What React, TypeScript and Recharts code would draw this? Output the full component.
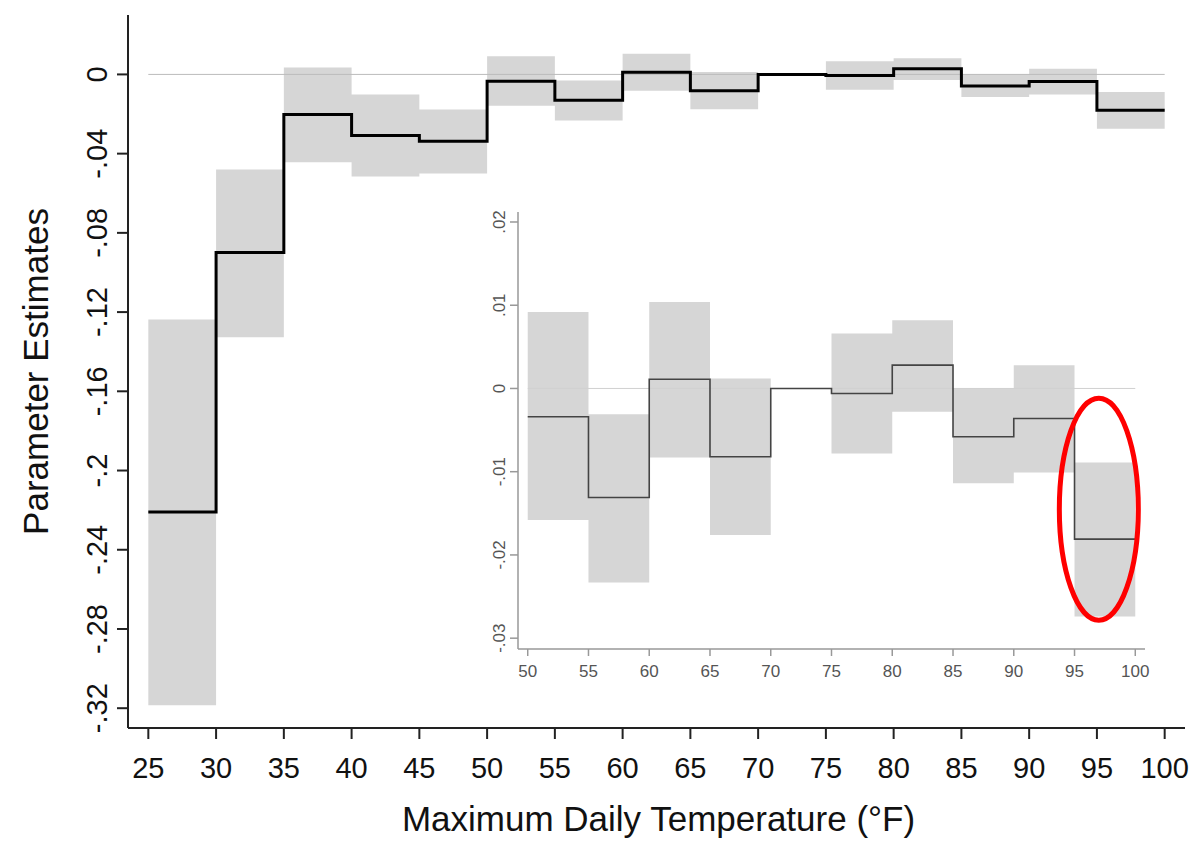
import React from 'react'
import {
  ComposedChart, Area, Line, XAxis, YAxis, ReferenceLine, ReferenceDot,
} from 'recharts'

// ─── Data ────────────────────────────────────────────────────────────────────

// Lower edge of each 5°F bin
const binStart = [25, 30, 35, 40, 45, 50, 55, 60, 65, 70, 75, 80, 85, 90, 95]
const binEnd = 100

// Point estimates (70-75 is the omitted reference bin)
const estimate = [
  -0.221, -0.0899, -0.0202, -0.0308, -0.0338, -0.0034, -0.0131, 0.0011,
  -0.0082, 0, -0.0006, 0.0028, -0.0058, -0.0036, -0.0181,
]
const ciLow = [
  -0.3185, -0.1327, -0.0444, -0.0515, -0.05, -0.0158, -0.0233, -0.0083,
  -0.0176, 0, -0.0078, -0.0028, -0.0114, -0.0101, -0.0274,
]
const ciHigh = [
  -0.1237, -0.048, 0.0035, -0.0101, -0.0177, 0.0092, -0.0031, 0.0104,
  0.0012, 0, 0.0066, 0.0082, 0.0, 0.0028, -0.0089,
]

const mainXTicks = [25, 30, 35, 40, 45, 50, 55, 60, 65, 70, 75, 80, 85, 90, 95, 100]
const mainYTicks = [0, -0.04, -0.08, -0.12, -0.16, -0.2, -0.24, -0.28, -0.32]
const mainYLabels = ['0', '-.04', '-.08', '-.12', '-.16', '-.2', '-.24', '-.28', '-.32']

const insetXTicks = [50, 55, 60, 65, 70, 75, 80, 85, 90, 95, 100]
const insetYTicks = [0.02, 0.01, 0, -0.01, -0.02, -0.03]
const insetYLabels = ['.02', '.01', '0', '-.01', '-.02', '-.03']

// highlighted bin in the inset (centre of the red ring)
const highlight = { x: 97, y: -0.0145 }

// step series: one point per bin start + closing point at the last bin end
function buildSteps(fromTemp: number) {
  const rows = binStart
    .map((t, i) => ({ t, est: estimate[i], band: [ciLow[i], ciHigh[i]] }))
    .filter(r => r.t >= fromTemp)
  const last = rows[rows.length - 1]
  rows.push({ t: binEnd, est: last.est, band: last.band })
  return rows
}

const mainData = buildSteps(25)
const insetData = buildSteps(50)

const FONT = '"Liberation Sans", Arial, sans-serif'

// ─── Ticks ───────────────────────────────────────────────────────────────────

function RotYTick(props: any) {
  const { x, y, payload, labels, ticks, size, fill } = props
  const idx = ticks.indexOf(payload.value)
  return (
    <text
      x={x} y={y}
      transform={`rotate(-90 ${x} ${y})`}
      textAnchor="middle"
      fontSize={size}
      fill={fill}
      fontFamily={FONT}
    >
      {idx >= 0 ? labels[idx] : payload.value}
    </text>
  )
}

// ─── Inset ───────────────────────────────────────────────────────────────────

function Inset() {
  return (
    <div style={{ position: 'absolute', left: 460, top: 190, width: 700, height: 500, background: '#fff' }}>
      <ComposedChart
        width={700} height={500} data={insetData}
        margin={{ top: 22, right: 15, left: 0, bottom: 0 }}
      >
        <XAxis
          dataKey="t" type="number" domain={[49.2, 100.8]} ticks={insetXTicks}
          allowDataOverflow height={41}
          tick={{ fontSize: 17, fill: '#555', fontFamily: FONT }}
          tickSize={7} tickMargin={9}
          axisLine={{ stroke: '#999', strokeWidth: 1.5 }}
          tickLine={{ stroke: '#999', strokeWidth: 1.5 }}
        />
        <YAxis
          type="number" domain={[-0.0313, 0.0212]} ticks={insetYTicks}
          allowDataOverflow width={58}
          tick={<RotYTick labels={insetYLabels} ticks={insetYTicks} size={17} fill="#555" />}
          tickSize={8} tickMargin={5}
          axisLine={{ stroke: '#999', strokeWidth: 1.5 }}
          tickLine={{ stroke: '#999', strokeWidth: 1.5 }}
        />
        <Area
          type="stepAfter" dataKey="band" stroke="none" fill="#d6d6d6" fillOpacity={1}
          isAnimationActive={false}
        />
        <ReferenceLine
          segment={[{ x: 50, y: 0 }, { x: 100, y: 0 }]}
          stroke="#d0d0d0" strokeWidth={1}
        />
        <Line
          type="stepAfter" dataKey="est" stroke="#444" strokeWidth={1.6} dot={false}
          isAnimationActive={false}
        />
        <ReferenceDot
          x={highlight.x} y={highlight.y}
          shape={(p: any) => (
            <ellipse cx={p.cx} cy={p.cy} rx={39.5} ry={111} fill="none" stroke="#f00" strokeWidth={5} />
          )}
        />
      </ComposedChart>
    </div>
  )
}

// ─── Main chart ──────────────────────────────────────────────────────────────

export default function App() {
  return (
    <div style={{ position: 'absolute', left: 0, top: 0, width: 1201, height: 850, background: '#fff', fontFamily: FONT }}>
      <ComposedChart
        width={1201} height={850} data={mainData}
        margin={{ top: 15, right: 16, left: 0, bottom: 0 }}
      >
        <XAxis
          dataKey="t" type="number" domain={[23.5, 101.5]} ticks={mainXTicks}
          allowDataOverflow height={122}
          tick={{ fontSize: 29, fill: '#111', fontFamily: FONT }}
          tickSize={11} tickMargin={18}
          axisLine={{ stroke: '#222', strokeWidth: 2 }}
          tickLine={{ stroke: '#222', strokeWidth: 2 }}
          label={{
            content: (p: any) => {
              const vb = p.viewBox
              return (
                <text x={vb.x + vb.width / 2 + 2} y={831} textAnchor="middle" fontSize={35} fill="#111" fontFamily={FONT}>
                  Maximum Daily Temperature (°F)
                </text>
              )
            },
          }}
        />
        <YAxis
          type="number" domain={[-0.33, 0.03]} ticks={mainYTicks}
          allowDataOverflow width={128}
          tick={<RotYTick labels={mainYLabels} ticks={mainYTicks} size={29} fill="#111" />}
          tickSize={11} tickMargin={10}
          axisLine={{ stroke: '#222', strokeWidth: 2 }}
          tickLine={{ stroke: '#222', strokeWidth: 2 }}
          label={{
            content: (p: any) => {
              const vb = p.viewBox
              const cy = vb.y + vb.height / 2
              return (
                <text x={48} y={cy} transform={`rotate(-90 48 ${cy})`} textAnchor="middle" fontSize={35} fill="#111" fontFamily={FONT}>
                  Parameter Estimates
                </text>
              )
            },
          }}
        />
        <Area
          type="stepAfter" dataKey="band" stroke="none" fill="#d6d6d6" fillOpacity={1}
          isAnimationActive={false}
        />
        <ReferenceLine
          segment={[{ x: 25, y: 0 }, { x: 100, y: 0 }]}
          stroke="#bbb" strokeWidth={1}
        />
        <Line
          type="stepAfter" dataKey="est" stroke="#000" strokeWidth={3} dot={false}
          isAnimationActive={false}
        />
      </ComposedChart>
      <Inset />
    </div>
  )
}
